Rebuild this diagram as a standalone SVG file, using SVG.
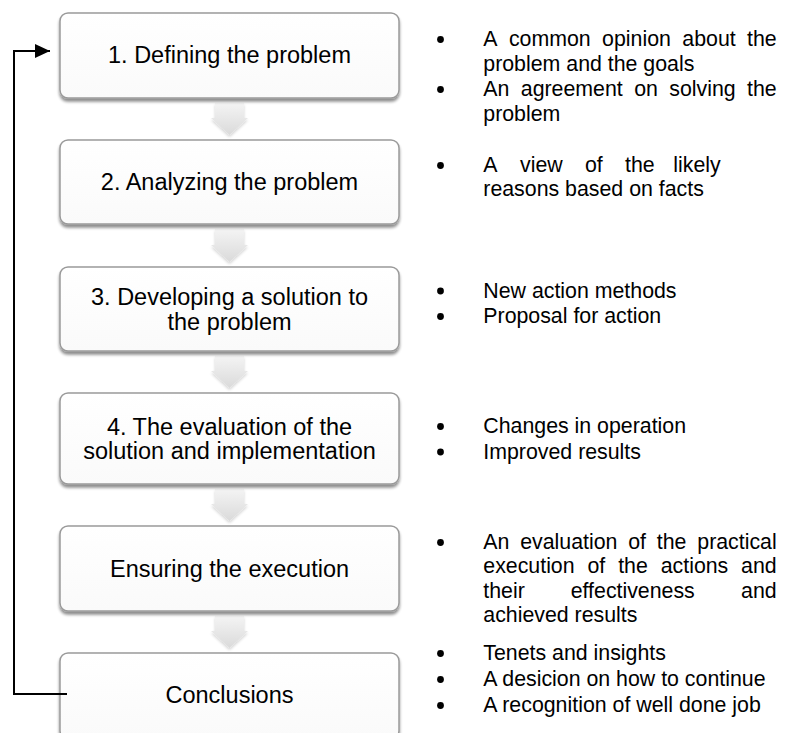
<svg xmlns="http://www.w3.org/2000/svg" width="789" height="733" viewBox="0 0 789 733">
  <style>
    .box { fill: url(#boxFill); stroke: #9a9a9a; stroke-width: 1.5; filter: url(#shadow); }
    .btxt { font-family: "Liberation Sans", Arial, sans-serif; font-size: 23.5px; fill: #000; text-anchor: middle; }
    .rtxt { font-family: "Liberation Sans", Arial, sans-serif; font-size: 21.33px; fill: #000; }
    .end { text-anchor: end; }
    .bul { fill: #000; }
    .flow { fill: url(#arrowFill); filter: url(#ashadow); }
    .conn { fill: none; stroke: #000; stroke-width: 2; }
  </style>
  <defs>
    <linearGradient id="boxFill" x1="0" y1="0" x2="0" y2="1">
      <stop offset="0" stop-color="#ffffff"/>
      <stop offset="1" stop-color="#fafafa"/>
    </linearGradient>
    <linearGradient id="arrowFill" x1="0" y1="0" x2="0" y2="1">
      <stop offset="0" stop-color="#f4f4f4"/>
      <stop offset="1" stop-color="#dadada"/>
    </linearGradient>
    <filter id="shadow" x="-5%" y="-10%" width="110%" height="130%">
      <feGaussianBlur in="SourceAlpha" stdDeviation="1.5"/>
      <feOffset dx="0" dy="2.5" result="b"/>
      <feComponentTransfer><feFuncA type="linear" slope="0.45"/></feComponentTransfer>
      <feMerge><feMergeNode/><feMergeNode in="SourceGraphic"/></feMerge>
    </filter>
    <filter id="ashadow" x="-30%" y="-30%" width="160%" height="160%">
      <feGaussianBlur in="SourceAlpha" stdDeviation="1.5"/>
      <feOffset dx="0" dy="1.5"/>
      <feComponentTransfer><feFuncA type="linear" slope="0.18"/></feComponentTransfer>
      <feMerge><feMergeNode/><feMergeNode in="SourceGraphic"/></feMerge>
    </filter>
    <marker id="ah" markerUnits="userSpaceOnUse" markerWidth="16" markerHeight="16" refX="15" refY="7" orient="auto">
      <path d="M0,0 L15,7 L0,14 Z" fill="#000"/>
    </marker>
  </defs>

  <!-- flow arrows between steps -->
  <g id="flow-arrows">
    <path class="flow" d="M215,103 H244 V118 H248 L229.5,135 L211,118 H215 Z"/>
    <path class="flow" d="M215,229 H244 V245 H248 L229.5,262 L211,245 H215 Z"/>
    <path class="flow" d="M215,356 H244 V371 H248 L229.5,388 L211,371 H215 Z"/>
    <path class="flow" d="M215,489 H244 V504 H248 L229.5,521 L211,504 H215 Z"/>
    <path class="flow" d="M215,616 H244 V631 H248 L229.5,648 L211,631 H215 Z"/>
  </g>

  <g id="step1">
    <rect class="box" x="60" y="13" width="339" height="85" rx="8"/>
    <text class="btxt" x="229.5" y="63">1. Defining the problem</text>
  </g>
  <g id="step2">
    <rect class="box" x="60" y="140" width="339" height="84" rx="8"/>
    <text class="btxt" x="229.5" y="190">2. Analyzing the problem</text>
  </g>
  <g id="step3">
    <rect class="box" x="60" y="267" width="339" height="84" rx="8"/>
    <text class="btxt" x="229.5" y="305"><tspan x="229.5">3. Developing a solution to</tspan><tspan x="229.5" dy="24.5">the problem</tspan></text>
  </g>
  <g id="step4">
    <rect class="box" x="60" y="393" width="339" height="91" rx="8"/>
    <text class="btxt" x="229.5" y="435"><tspan x="229.5">4. The evaluation of the</tspan><tspan x="229.5" dy="23.5">solution and implementation</tspan></text>
  </g>
  <g id="step5">
    <rect class="box" x="60" y="526" width="339" height="85" rx="8"/>
    <text class="btxt" x="229.5" y="577">Ensuring the execution</text>
  </g>
  <g id="step6">
    <rect class="box" x="60" y="653" width="339" height="86" rx="8"/>
    <text class="btxt" x="229.5" y="703">Conclusions</text>
  </g>

  <g id="connectors">
    <path class="conn" d="M67,694 H14 V51 H50" marker-end="url(#ah)"/>
  </g>

  <g id="notes1">
    <circle class="bul" cx="440.5" cy="39.5" r="3.4"/>
    <text class="rtxt" y="46"><tspan x="483.3">A</tspan><tspan x="508.9">common</tspan><tspan x="602.1">opinion</tspan><tspan x="682.3">about</tspan></text>
    <text class="rtxt end" x="776.7" y="46">the</text>
    <text class="rtxt" x="483.3" y="70.5">problem and the goals</text>
    <circle class="bul" cx="440.5" cy="89.5" r="3.4"/>
    <text class="rtxt" y="96"><tspan x="483.3">An</tspan><tspan x="520.8">agreement</tspan><tspan x="634.2">on</tspan><tspan x="669.3">solving</tspan></text>
    <text class="rtxt end" x="776.7" y="96">the</text>
    <text class="rtxt" x="483.3" y="120.5">problem</text>
  </g>
  <g id="notes2">
    <circle class="bul" cx="440.5" cy="165.5" r="3.4"/>
    <text class="rtxt" y="172"><tspan x="483.3">A</tspan><tspan x="520">view</tspan><tspan x="585">of</tspan><tspan x="625">the</tspan><tspan x="673.3">likely</tspan></text>
    <text class="rtxt" x="483.3" y="196">reasons based on facts</text>
  </g>
  <g id="notes3">
    <circle class="bul" cx="440.5" cy="291" r="3.4"/>
    <text class="rtxt" x="483.3" y="297.5">New action methods</text>
    <circle class="bul" cx="440.5" cy="316.5" r="3.4"/>
    <text class="rtxt" x="483.3" y="323">Proposal for action</text>
  </g>
  <g id="notes4">
    <circle class="bul" cx="440.5" cy="426.5" r="3.4"/>
    <text class="rtxt" x="483.3" y="433">Changes in operation</text>
    <circle class="bul" cx="440.5" cy="452" r="3.4"/>
    <text class="rtxt" x="483.3" y="458.5">Improved results</text>
  </g>
  <g id="notes5">
    <circle class="bul" cx="440.5" cy="542.5" r="3.4"/>
    <text class="rtxt" y="549"><tspan x="483.3">An</tspan><tspan x="520.2">evaluation</tspan><tspan x="628.2">of</tspan><tspan x="656.8">the</tspan></text>
    <text class="rtxt end" x="776.7" y="549">practical</text>
    <text class="rtxt" y="573"><tspan x="483.3">execution</tspan><tspan x="587.5">of</tspan><tspan x="618.2">the</tspan><tspan x="660.7">actions</tspan></text>
    <text class="rtxt end" x="776.7" y="573">and</text>
    <text class="rtxt" y="597.5"><tspan x="483.3">their</tspan><tspan x="570.7">effectiveness</tspan></text>
    <text class="rtxt end" x="776.7" y="597.5">and</text>
    <text class="rtxt" x="483.3" y="622">achieved results</text>
  </g>
  <g id="notes6">
    <circle class="bul" cx="440.5" cy="653.5" r="3.4"/>
    <text class="rtxt" x="483.3" y="660">Tenets and insights</text>
    <circle class="bul" cx="440.5" cy="679.5" r="3.4"/>
    <text class="rtxt" x="483.3" y="686">A desicion on how to continue</text>
    <circle class="bul" cx="440.5" cy="705.5" r="3.4"/>
    <text class="rtxt" x="483.3" y="712">A recognition of well done job</text>
  </g>
</svg>
